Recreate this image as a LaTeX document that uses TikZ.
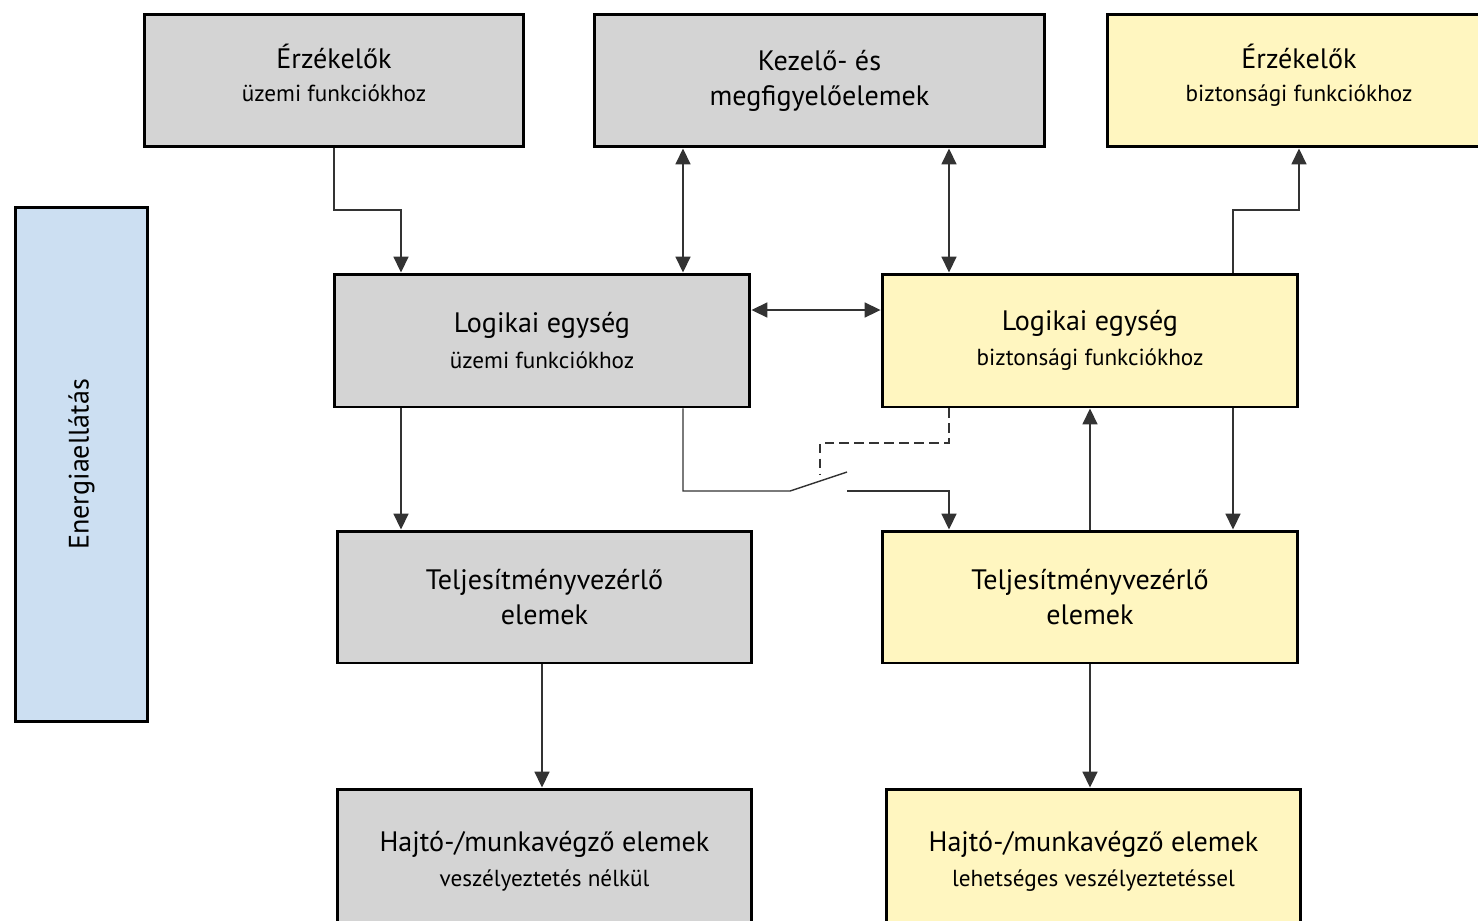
\documentclass[tikz,border=0pt]{standalone}
\usepackage{fontspec}
\setmainfont{PT Sans}
\usetikzlibrary{arrows.meta}

\definecolor{boxgrey}{HTML}{D4D4D4}
\definecolor{boxyellow}{HTML}{FFF6C0}
\definecolor{boxblue}{HTML}{CCDFF2}
\definecolor{wire}{HTML}{333333}

\newcommand{\subline}[1]{{\fontsize{13.2}{20}\selectfont #1}}

\tikzset{
    box/.style={draw=black, line width=1.7pt, inner sep=0pt, align=center,
        font=\fontsize{16}{20}\selectfont},
    grey/.style={box, fill=boxgrey},
    yell/.style={box, fill=boxyellow},
    toprow/.style={minimum height=2.66cm, text depth=9pt},
    conn/.style={draw=wire, line width=0.8pt, -{Triangle[length=9pt,width=8.5pt]}},
    conn2/.style={conn, {Triangle[length=9pt,width=8.5pt]}-{Triangle[length=9pt,width=8.5pt]}},
    wireline/.style={draw=wire, line width=0.8pt},
}

\begin{document}
\begin{tikzpicture}[x=0.02cm, y=-0.02cm]
        \useasboundingbox (0,0) rectangle (1478,920);
        \clip (0,0) rectangle (1478,920);
        % ── felső sor ────────────────────────────────────────
        \node[grey, toprow, minimum width=7.6cm] (sensop) at (334,80.5)
            {Érzékelők\\[-1pt]\subline{üzemi funkciókhoz}};
        \node[grey, minimum width=9.02cm, minimum height=2.66cm] (hmi) at (819.5,80.5)
            {Kezelő- és\\megfigyelőelemek};
        \node[yell, toprow, minimum width=7.68cm] (sensbt) at (1299,80.5)
            {Érzékelők\\[-1pt]\subline{biztonsági funkciókhoz}};
        % energiaellátás
        \node[box, fill=boxblue, rotate=90, minimum width=10.3cm, minimum height=2.66cm] (power) at (81.5,464.5)
            {Energiaellátás};
        % ── logikai egységek ─────────────────────────────────
        \node[grey, minimum width=8.32cm, minimum height=2.66cm] (logop) at (542,340.5)
            {Logikai egység\\\subline{üzemi funkciókhoz}};
        \node[yell, minimum width=8.32cm, minimum height=2.66cm] (logbt) at (1090,340.5)
            {Logikai egység\\\subline{biztonsági funkciókhoz}};
        % ── teljesítményvezérlő elemek ───────────────────────
        \node[grey, minimum width=8.3cm, minimum height=2.64cm] (powop) at (544.5,597)
            {Teljesítményvezérlő\\elemek};
        \node[yell, minimum width=8.32cm, minimum height=2.64cm] (powbt) at (1090,597)
            {Teljesítményvezérlő\\elemek};
        % ── hajtó-/munkavégző elemek ─────────────────────────
        \node[grey, minimum width=8.3cm, minimum height=2.9cm] (actop) at (544.5,861.5)
            {Hajtó-/munkavégző elemek\\\subline{veszélyeztetés nélkül}};
        \node[yell, minimum width=8.3cm, minimum height=2.9cm] (actbt) at (1093.5,861.5)
            {Hajtó-/munkavégző elemek\\\subline{lehetséges veszélyeztetéssel}};
        % ── segédpontok ──────────────────────────────────────
        \coordinate (xa) at (683,0);
        \coordinate (xb) at (949,0);
        \coordinate (xc) at (1233,0);
        \coordinate (xd) at (401,0);
        \coordinate (xe) at (542,0);
        \coordinate (ya) at (0,310);
        \coordinate (t1) at (401,210);
        \coordinate (t2) at (1299,210);
        \coordinate (sw1) at (790,491);
        \coordinate (sw2) at (847,491);
        \coordinate (blade) at (847,472);
        \coordinate (dz) at (820,443);
        % ── összeköttetések ──────────────────────────────────
        \draw[conn] (sensop.south) |- (t1) -- (t1 |- logop.north);
        \draw[conn2] (hmi.south -| xa) -- (logop.north -| xa);
        \draw[conn2] (hmi.south -| xb) -- (logbt.north -| xb);
        \draw[conn2] (logop.east |- ya) -- (logbt.west |- ya);
        \draw[conn] (logbt.north -| xc) |- (t2) -- (sensbt.south);
        \draw[conn] (logop.south -| xd) -- (powop.north -| xd);
        \draw[conn] (logbt.south -| xc) -- (powbt.north -| xc);
        \draw[conn] (powbt.north) -- (logbt.south);
        \draw[conn] (powop.south -| xe) -- (actop.north -| xe);
        \draw[conn] (powbt.south) -- (actbt.north -| powbt.south);
        % kapcsoló
        \draw[wireline] (logop.south -| xa) |- (sw1) -- (blade);
        \draw[conn] (sw2) -| (powbt.north -| xb);
        \draw[wireline, dash pattern=on 5.5pt off 3pt] (logbt.south -| xb) |- (dz) -- ++(0,32);
\end{tikzpicture}
\end{document}
